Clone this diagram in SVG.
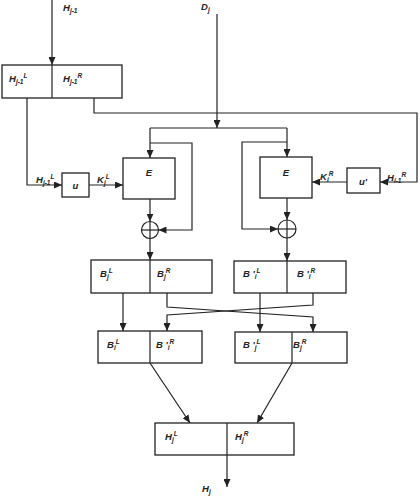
<svg xmlns="http://www.w3.org/2000/svg" width="420" height="496" viewBox="0 0 420 496">
<style>
.box{fill:#fff;stroke:#222;stroke-width:1.3}
.ln{fill:none;stroke:#222;stroke-width:1.2}
.t{font-family:"Liberation Sans",Arial,sans-serif;font-style:italic;font-weight:bold;font-size:9.5px;fill:#222}
.s{font-size:6.5px}
</style>
<defs>
<marker id="ah" markerWidth="8" markerHeight="7" refX="8" refY="3.5" orient="auto" markerUnits="userSpaceOnUse">
<path d="M0,0 L8,3.5 L0,7 z" fill="#222"/>
</marker>
</defs>
<rect width="420" height="496" fill="#fff"/>

<g id="connectors">
<line class="ln" x1="52" y1="0" x2="52" y2="65" marker-end="url(#ah)"/>
<line class="ln" x1="217" y1="14" x2="217" y2="128" marker-end="url(#ah)"/>
<line class="ln" x1="150" y1="128" x2="287" y2="128"/>
<line class="ln" x1="150" y1="128" x2="150" y2="158" marker-end="url(#ah)"/>
<line class="ln" x1="287" y1="128" x2="287" y2="157" marker-end="url(#ah)"/>
<polyline class="ln" points="150,143 192,143 192,230 158.5,230" marker-end="url(#ah)"/>
<polyline class="ln" points="287,142 242,142 242,229 278,229" marker-end="url(#ah)"/>
<polyline class="ln" points="27,98 27,185 62,185" marker-end="url(#ah)"/>
<line class="ln" x1="89" y1="185" x2="123" y2="185" marker-end="url(#ah)"/>
<polyline class="ln" points="94,98 94,113 417,113 417,182 380,182" marker-end="url(#ah)"/>
<line class="ln" x1="347" y1="182" x2="312" y2="182" marker-end="url(#ah)"/>
<line class="ln" x1="150" y1="199" x2="150" y2="221.5" marker-end="url(#ah)"/>
<line class="ln" x1="150" y1="238.5" x2="150" y2="260" marker-end="url(#ah)"/>
<line class="ln" x1="287" y1="198" x2="287" y2="220" marker-end="url(#ah)"/>
<line class="ln" x1="287" y1="238" x2="287" y2="261" marker-end="url(#ah)"/>
<line class="ln" x1="123" y1="293" x2="123" y2="331" marker-end="url(#ah)"/>
<polyline class="ln" points="167,293 167,307 313,317 313,332" marker-end="url(#ah)"/>
<polyline class="ln" points="313,293 313,305 167,315 167,331" marker-end="url(#ah)"/>
<line class="ln" x1="260" y1="293" x2="260" y2="332" marker-end="url(#ah)"/>
<line class="ln" x1="150" y1="363" x2="190" y2="423" marker-end="url(#ah)"/>
<line class="ln" x1="292" y1="363" x2="257" y2="423" marker-end="url(#ah)"/>
<line class="ln" x1="227" y1="455" x2="227" y2="487" marker-end="url(#ah)"/>
</g>

<g id="label-Hj-1">
<text class="t" x="63" y="11">H<tspan class="s" dy="2">j-1</tspan></text>
</g>
<g id="label-Dj">
<text class="t" x="201" y="10">D<tspan class="s" dy="2">j</tspan></text>
</g>

<g id="node-Hin">
<rect class="box" x="2" y="65" width="120" height="33"/>
<line class="ln" x1="52" y1="65" x2="52" y2="98"/>
<text class="t" x="9" y="82">H<tspan class="s" dy="2">j-1</tspan><tspan class="s" dy="-6">L</tspan></text>
<text class="t" x="63" y="82">H<tspan class="s" dy="2">j-1</tspan><tspan class="s" dy="-6">R</tspan></text>
</g>

<g id="label-HL">
<text class="t" x="36" y="183">H<tspan class="s" dy="2">j-1</tspan><tspan class="s" dy="-6">L</tspan></text>
</g>
<g id="node-u">
<rect class="box" x="62" y="173" width="27" height="24"/>
<text class="t" x="75.5" y="189" text-anchor="middle">u</text>
</g>
<g id="label-KL">
<text class="t" x="97" y="183">K<tspan class="s" dy="2">j</tspan><tspan class="s" dy="-6">L</tspan></text>
</g>
<g id="node-E1">
<rect class="box" x="123" y="158" width="52" height="41"/>
<text class="t" x="149" y="176" text-anchor="middle">E</text>
</g>
<g id="node-xor1">
<circle class="ln" cx="150" cy="230" r="8.5"/>
<line class="ln" x1="141.5" y1="230" x2="158.5" y2="230"/>
<line class="ln" x1="150" y1="221.5" x2="150" y2="238.5"/>
</g>

<g id="label-HR">
<text class="t" x="387" y="181">H<tspan class="s" dy="2">i-1</tspan><tspan class="s" dy="-6">R</tspan></text>
</g>
<g id="node-u2">
<rect class="box" x="347" y="168" width="33" height="25"/>
<text class="t" x="363" y="185" text-anchor="middle">u'</text>
</g>
<g id="label-KR">
<text class="t" x="320" y="180">K<tspan class="s" dy="2">i</tspan><tspan class="s" dy="-6">R</tspan></text>
</g>
<g id="node-E2">
<rect class="box" x="260" y="157" width="52" height="41"/>
<text class="t" x="286" y="176" text-anchor="middle">E</text>
</g>
<g id="node-xor2">
<circle class="ln" cx="287" cy="229" r="9"/>
<line class="ln" x1="278" y1="229" x2="296" y2="229"/>
<line class="ln" x1="287" y1="220" x2="287" y2="238"/>
</g>

<g id="node-B1">
<rect class="box" x="91" y="260" width="121" height="33"/>
<line class="ln" x1="150" y1="260" x2="150" y2="293"/>
<text class="t" x="100" y="277">B<tspan class="s" dy="2">j</tspan><tspan class="s" dy="-6">L</tspan></text>
<text class="t" x="157" y="277">B<tspan class="s" dy="2">j</tspan><tspan class="s" dy="-6">R</tspan></text>
</g>
<g id="node-B2">
<rect class="box" x="234" y="261" width="112" height="32"/>
<line class="ln" x1="287" y1="261" x2="287" y2="293"/>
<text class="t" x="243" y="277">B '<tspan class="s" dy="2">i</tspan><tspan class="s" dy="-6">L</tspan></text>
<text class="t" x="297" y="277">B '<tspan class="s" dy="2">i</tspan><tspan class="s" dy="-6">R</tspan></text>
</g>

<g id="node-B3">
<rect class="box" x="98" y="331" width="104" height="32"/>
<line class="ln" x1="150" y1="331" x2="150" y2="363"/>
<text class="t" x="107" y="348">B<tspan class="s" dy="2">i</tspan><tspan class="s" dy="-6">L</tspan></text>
<text class="t" x="156" y="348">B  '<tspan class="s" dy="2">i</tspan><tspan class="s" dy="-6">R</tspan></text>
</g>
<g id="node-B4">
<rect class="box" x="235" y="332" width="112" height="31"/>
<line class="ln" x1="292" y1="332" x2="292" y2="363"/>
<text class="t" x="243" y="348">B '<tspan class="s" dy="2">j</tspan><tspan class="s" dy="-6">L</tspan></text>
<text class="t" x="293" y="348">B<tspan class="s" dy="2">j</tspan><tspan class="s" dy="-6">R</tspan></text>
</g>

<g id="node-Hout">
<rect class="box" x="155" y="423" width="139" height="32"/>
<line class="ln" x1="227" y1="423" x2="227" y2="455"/>
<text class="t" x="165" y="440">H<tspan class="s" dy="2">j</tspan><tspan class="s" dy="-6">L</tspan></text>
<text class="t" x="235" y="440">H<tspan class="s" dy="2">j</tspan><tspan class="s" dy="-6">R</tspan></text>
</g>
<g id="label-Hj">
<text class="t" x="202" y="492">H<tspan class="s" dy="2">j</tspan></text>
</g>
</svg>
